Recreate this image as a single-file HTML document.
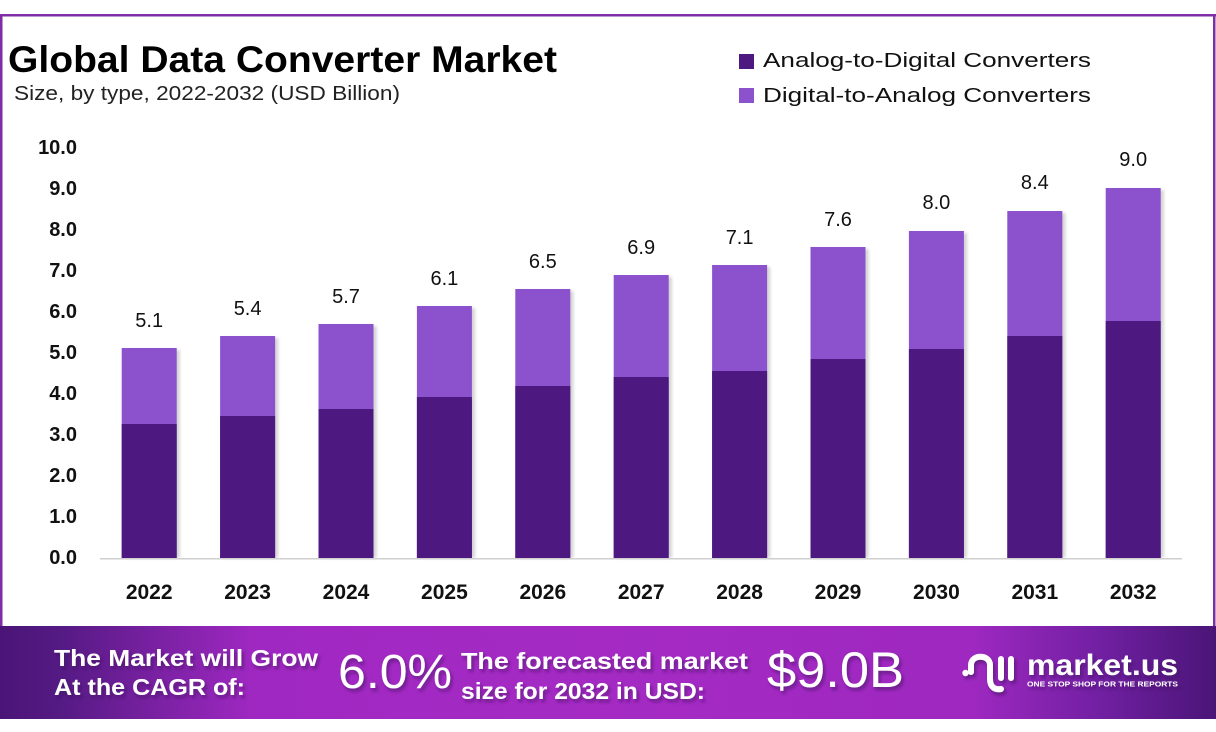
<!DOCTYPE html>
<html>
<head>
<meta charset="utf-8">
<style>
  html,body{margin:0;padding:0;background:#fff;}
  svg{display:block;}
  text{font-family:"Liberation Sans", sans-serif;}
</style>
</head>
<body>
<svg width="1216" height="732" viewBox="0 0 1216 732" xmlns="http://www.w3.org/2000/svg">
  <defs>
    <linearGradient id="ban" x1="0" y1="0" x2="1" y2="0">
      <stop offset="0" stop-color="#4A1577"/>
      <stop offset="0.05" stop-color="#551a84"/>
      <stop offset="0.21" stop-color="#A028C2"/>
      <stop offset="0.5" stop-color="#A52AC4"/>
      <stop offset="0.8" stop-color="#9E28C0"/>
      <stop offset="0.9" stop-color="#7320A4"/>
      <stop offset="1" stop-color="#4A1577"/>
    </linearGradient>
    <filter id="sh" x="-10%" y="-20%" width="130%" height="160%">
      <feDropShadow dx="2" dy="3" stdDeviation="1.5" flood-color="#3a0a5a" flood-opacity="0.55"/>
    </filter>
    <filter id="bsh" x="-10%" y="-5%" width="130%" height="110%">
      <feGaussianBlur stdDeviation="1.5"/>
    </filter>
  </defs>

  <!-- frame -->
  <rect x="0" y="14" width="1216" height="2.5" fill="#7E2DA6"/>
  <rect x="0" y="14" width="2.5" height="662" fill="#7E2DA6"/>
  <rect x="1213" y="14" width="2.5" height="612" fill="#7E2DA6"/>

  <!-- title -->
  <text x="8" y="72" font-size="37" font-weight="bold" fill="#000" textLength="549" lengthAdjust="spacingAndGlyphs">Global Data Converter Market</text>
  <text x="14" y="100" font-size="20" fill="#222" textLength="386" lengthAdjust="spacingAndGlyphs">Size, by type, 2022-2032 (USD Billion)</text>

  <!-- legend -->
  <rect x="739" y="54" width="15" height="15" fill="#4D1880"/>
  <text x="763" y="67" font-size="20" fill="#111" textLength="328" lengthAdjust="spacingAndGlyphs">Analog-to-Digital Converters</text>
  <rect x="739" y="88" width="15" height="15" fill="#8C51CD"/>
  <text x="763" y="102" font-size="20" fill="#111" textLength="328" lengthAdjust="spacingAndGlyphs">Digital-to-Analog Converters</text>

  <!-- y axis labels -->
  <g font-size="20" font-weight="bold" fill="#111" text-anchor="end">
    <text x="77" y="154">10.0</text>
    <text x="77" y="195">9.0</text>
    <text x="77" y="236">8.0</text>
    <text x="77" y="277">7.0</text>
    <text x="77" y="318">6.0</text>
    <text x="77" y="359">5.0</text>
    <text x="77" y="400">4.0</text>
    <text x="77" y="441">3.0</text>
    <text x="77" y="482">2.0</text>
    <text x="77" y="523">1.0</text>
    <text x="77" y="564">0.0</text>
  </g>

  <!-- bar shadows -->
  <g fill="#000" opacity="0.18" filter="url(#bsh)">
    <rect x="124.7" y="350" width="55" height="208"/>
    <rect x="223.1" y="338" width="55" height="220"/>
    <rect x="321.5" y="326" width="55" height="232"/>
    <rect x="419.9" y="308" width="55" height="250"/>
    <rect x="518.3" y="291" width="55" height="267"/>
    <rect x="616.7" y="277" width="55" height="281"/>
    <rect x="715.1" y="267" width="55" height="291"/>
    <rect x="813.5" y="249" width="55" height="309"/>
    <rect x="911.9" y="233" width="55" height="325"/>
    <rect x="1010.3" y="213" width="55" height="345"/>
    <rect x="1108.7" y="190" width="55" height="368"/>
  </g>

  <!-- bars: light (total) -->
  <g fill="#8C51CD">
    <rect x="121.7" y="348" width="55" height="210"/>
    <rect x="220.1" y="336" width="55" height="222"/>
    <rect x="318.5" y="324" width="55" height="234"/>
    <rect x="416.9" y="306" width="55" height="252"/>
    <rect x="515.3" y="289" width="55" height="269"/>
    <rect x="613.7" y="275" width="55" height="283"/>
    <rect x="712.1" y="265" width="55" height="293"/>
    <rect x="810.5" y="247" width="55" height="311"/>
    <rect x="908.9" y="231" width="55" height="327"/>
    <rect x="1007.3" y="211" width="55" height="347"/>
    <rect x="1105.7" y="188" width="55" height="370"/>
  </g>
  <!-- bars: dark -->
  <g fill="#4D1880">
    <rect x="121.7" y="424" width="55" height="134"/>
    <rect x="220.1" y="416" width="55" height="142"/>
    <rect x="318.5" y="409" width="55" height="149"/>
    <rect x="416.9" y="397" width="55" height="161"/>
    <rect x="515.3" y="386" width="55" height="172"/>
    <rect x="613.7" y="377" width="55" height="181"/>
    <rect x="712.1" y="371" width="55" height="187"/>
    <rect x="810.5" y="359" width="55" height="199"/>
    <rect x="908.9" y="349" width="55" height="209"/>
    <rect x="1007.3" y="336" width="55" height="222"/>
    <rect x="1105.7" y="321" width="55" height="237"/>
  </g>

  <!-- axis line -->
  <rect x="100" y="558" width="1082" height="1.5" fill="#cfcfcf"/>

  <!-- value labels -->
  <g font-size="20" fill="#111" text-anchor="middle">
    <text x="149.2" y="327">5.1</text>
    <text x="247.6" y="315">5.4</text>
    <text x="346" y="303">5.7</text>
    <text x="444.4" y="285">6.1</text>
    <text x="542.8" y="268">6.5</text>
    <text x="641.2" y="254">6.9</text>
    <text x="739.6" y="244">7.1</text>
    <text x="838" y="226">7.6</text>
    <text x="936.4" y="209">8.0</text>
    <text x="1034.8" y="189">8.4</text>
    <text x="1133.2" y="166">9.0</text>
  </g>

  <!-- x labels -->
  <g font-size="21" font-weight="bold" fill="#111" text-anchor="middle">
    <text x="149.2" y="599">2022</text>
    <text x="247.6" y="599">2023</text>
    <text x="346" y="599">2024</text>
    <text x="444.4" y="599">2025</text>
    <text x="542.8" y="599">2026</text>
    <text x="641.2" y="599">2027</text>
    <text x="739.6" y="599">2028</text>
    <text x="838" y="599">2029</text>
    <text x="936.4" y="599">2030</text>
    <text x="1034.8" y="599">2031</text>
    <text x="1133.2" y="599">2032</text>
  </g>

  <!-- banner -->
  <rect x="0" y="626" width="1216" height="93" fill="url(#ban)"/>
  <g fill="#fff" filter="url(#sh)">
    <text x="54" y="666" font-size="23" font-weight="bold" textLength="264" lengthAdjust="spacingAndGlyphs">The Market will Grow</text>
    <text x="54" y="695" font-size="23" font-weight="bold" textLength="191" lengthAdjust="spacingAndGlyphs">At the CAGR of:</text>
    <text x="338" y="688" font-size="48" textLength="114" lengthAdjust="spacingAndGlyphs">6.0%</text>
    <text x="461" y="669" font-size="23" font-weight="bold" textLength="287" lengthAdjust="spacingAndGlyphs">The forecasted market</text>
    <text x="461" y="699" font-size="23" font-weight="bold" textLength="244" lengthAdjust="spacingAndGlyphs">size for 2032 in USD:</text>
    <text x="767" y="687" font-size="50" textLength="137" lengthAdjust="spacingAndGlyphs">$9.0B</text>
    <text x="1027" y="675" font-size="30" font-weight="bold" textLength="151" lengthAdjust="spacingAndGlyphs">market.us</text>
    <text x="1027" y="686.5" font-size="7" font-weight="bold" textLength="151" lengthAdjust="spacingAndGlyphs">ONE STOP SHOP FOR THE REPORTS</text>
    <!-- logo icon -->
    <circle cx="965.5" cy="673" r="3.2"/>
    <path d="M971 672 L971 665 C971 654 990 654 990 665 L990 679 C990 688 996 690 1001 689" fill="none" stroke="#fff" stroke-width="6" stroke-linecap="round"/>
    <path d="M1001 659 L1001 678 M1011 659 L1011 678" fill="none" stroke="#fff" stroke-width="6" stroke-linecap="round"/>
  </g>
</svg>
</body>
</html>
